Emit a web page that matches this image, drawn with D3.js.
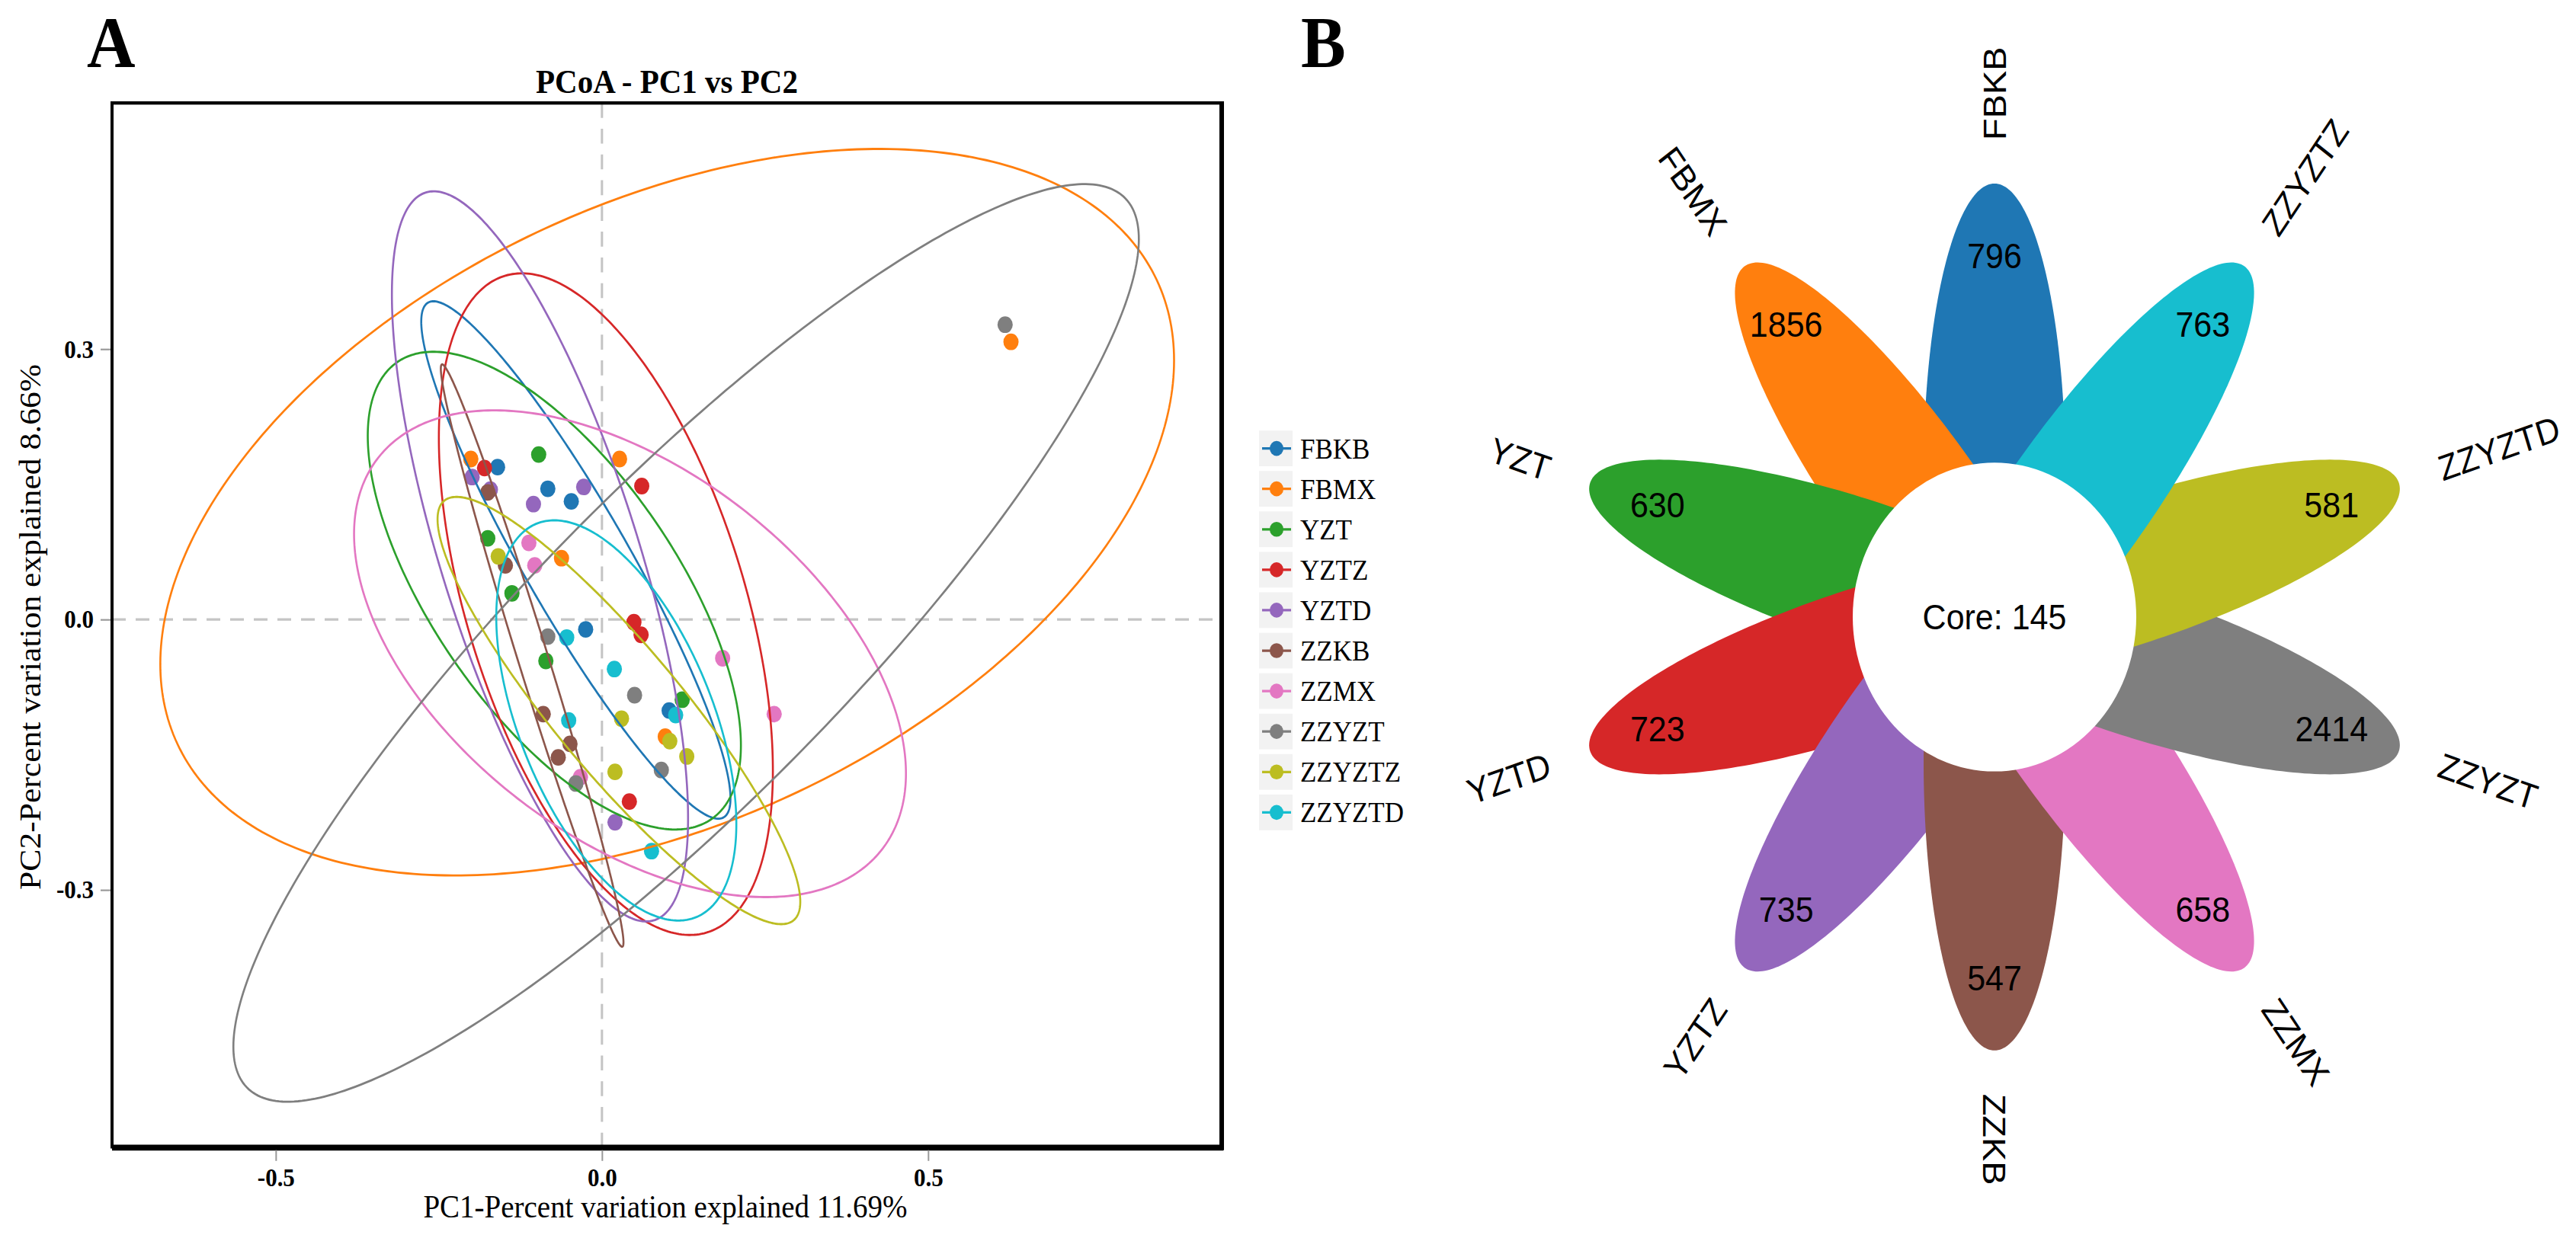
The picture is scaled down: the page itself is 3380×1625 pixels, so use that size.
<!DOCTYPE html>
<html>
<head>
<meta charset="utf-8">
<script src="https://cdn.jsdelivr.net/npm/d3@7"></script>
<style>
  body { margin: 0; background: #fff; }
  svg { display: block; }
  .serif { font-family: "Liberation Serif", "Times New Roman", serif; }
  .sans { font-family: "Liberation Sans", Arial, sans-serif; }
</style>
</head>
<body>
<div id="chart"></div>
<script>
(function(d3){

    // ---- Panel A data: PCoA scores ----
    let groups = ['FBKB', 'FBMX', 'YZT', 'YZTZ', 'YZTD', 'ZZKB', 'ZZMX', 'ZZYZT', 'ZZYZTZ', 'ZZYZTD'];

    let pc1 = [
        [-0.160, -0.083, -0.047, -0.025, 0.103],
        [-0.201, 0.027, -0.062, 0.097, 0.627],
        [-0.097, -0.175, -0.138, -0.086, 0.123],
        [-0.180, 0.061, 0.049, 0.060, 0.042],
        [-0.199, -0.171, -0.028, -0.105, 0.020],
        [-0.175, -0.148, -0.090, -0.049, -0.067],
        [-0.112, -0.103, 0.185, -0.033, 0.264],
        [-0.083, 0.050, 0.091, -0.040, 0.618],
        [-0.159, 0.030, 0.104, 0.130, 0.020],
        [-0.054, 0.019, 0.113, -0.051, 0.076]
    ];
    let pc2 = [
        [0.169, 0.145, 0.131, -0.011, -0.101],
        [0.178, 0.178, 0.068, -0.130, 0.308],
        [0.183, 0.090, 0.029, -0.046, -0.089],
        [0.168, 0.148, -0.003, -0.017, -0.202],
        [0.158, 0.144, 0.147, 0.128, -0.225],
        [0.141, 0.060, -0.105, -0.138, -0.153],
        [0.085, 0.060, -0.043, -0.175, -0.105],
        [-0.019, -0.084, -0.167, -0.182, 0.327],
        [0.070, -0.110, -0.135, -0.152, -0.169],
        [-0.020, -0.055, -0.106, -0.112, -0.257]
    ];

    // Confidence ellipses: centre, half width, half height, tilt (correlation)
    let ellCx   = [-0.040, 0.100, -0.073, 0.006, -0.095, -0.107, 0.043, 0.129, 0.026, 0.022];
    let ellCy   = [0.066, 0.119, 0.032, 0.017, 0.070, -0.040, -0.038, -0.026, -0.101, -0.112];
    let ellW    = [0.237, 0.777, 0.286, 0.256, 0.227, 0.140, 0.423, 0.694, 0.278, 0.184];
    let ellH    = [0.287, 0.403, 0.265, 0.367, 0.405, 0.323, 0.270, 0.509, 0.237, 0.222];
    let ellTilt = [-0.921, 0.418, -0.648, -0.503, -0.717, -0.985, -0.492, 0.880, -0.895, -0.517];

    let xTicks = [-0.5, 0.0, 0.5];
    let yTicks = [-0.3, 0.0, 0.3];

    // ---- Panel B data: flower plot ----
    let petalNames  = ['FBKB', 'FBMX', 'YZT', 'YZTD', 'YZTZ', 'ZZKB', 'ZZMX', 'ZZYZT', 'ZZYZTD', 'ZZYZTZ'];
    let petalCounts = [796, 1856, 630, 723, 735, 547, 658, 2414, 581, 763];
    let coreCount = 145;

    let palette = d3.schemeCategory10;

    // Canvas; the source figure is slightly stretched vertically
    let width = 3380, height = 1625, stretch = 1.09;

    let svg = d3.select('#chart').append('svg')
        .attr('width', width)
        .attr('height', height);

    let root = svg.append('g').attr('transform', `scale(1, ${stretch})`);

    // ================= Panel A =================
    let frame = { left: 147, right: 1603, top: 124, bottom: 1381 };

    let x = d3.scaleLinear().domain([-0.751, 0.950]).range([frame.left, frame.right]);
    let y = d3.scaleLinear().domain([-0.585, 0.573]).range([frame.bottom, frame.top]);

    root.append('text')
        .attr('class', 'serif')
        .attr('x', 114).attr('y', 81)
        .style('font-size', '88px').style('font-weight', 'bold')
        .text('A');

    root.append('text')
        .attr('class', 'serif')
        .attr('x', (frame.left + frame.right) / 2).attr('y', 112)
        .attr('text-anchor', 'middle')
        .style('font-size', '41px').style('font-weight', 'bold')
        .text('PCoA - PC1 vs PC2');

    // zero reference lines
    root.append('line')
        .attr('x1', x(0)).attr('x2', x(0))
        .attr('y1', frame.top).attr('y2', frame.bottom)
        .attr('stroke', '#c4c4c4').attr('stroke-width', 3)
        .attr('stroke-dasharray', '18,13');
    root.append('line')
        .attr('x1', frame.left).attr('x2', frame.right)
        .attr('y1', y(0)).attr('y2', y(0))
        .attr('stroke', '#c4c4c4').attr('stroke-width', 3)
        .attr('stroke-dasharray', '18,13');

    // points
    groups.forEach((g, gi) => {
        pc1[gi].forEach((v, j) => {
            root.append('circle')
                .attr('cx', x(v))
                .attr('cy', y(pc2[gi][j]))
                .attr('r', 10)
                .attr('fill', palette[gi]);
        });
    });

    // ellipses
    let ellLine = d3.line()
        .x(p => x(p[0]))
        .y(p => y(p[1]))
        .curve(d3.curveLinearClosed);

    groups.forEach((g, gi) => {
        let phi = Math.asin(ellTilt[gi]);
        let pts = d3.range(0, 2 * Math.PI, Math.PI / 180).map(t => [
            ellCx[gi] + ellW[gi] * Math.cos(t),
            ellCy[gi] + ellH[gi] * Math.sin(t + phi)
        ]);
        root.append('path')
            .attr('d', ellLine(pts))
            .attr('fill', 'none')
            .attr('stroke', palette[gi])
            .attr('stroke-width', 2.6);
    });

    // frame
    root.append('rect')
        .attr('x', frame.left).attr('y', frame.top)
        .attr('width', frame.right - frame.left)
        .attr('height', frame.bottom - frame.top)
        .attr('fill', 'none')
        .attr('stroke', '#000').attr('stroke-width', 4);
    root.append('line')
        .attr('x1', frame.left).attr('x2', frame.right + 2)
        .attr('y1', frame.bottom + 1).attr('y2', frame.bottom + 1)
        .attr('stroke', '#000').attr('stroke-width', 7);
    root.append('line')
        .attr('x1', frame.right).attr('x2', frame.right)
        .attr('y1', frame.top - 2).attr('y2', frame.bottom + 4)
        .attr('stroke', '#000').attr('stroke-width', 6);

    // axes
    let fmt = d => d.toFixed(1);

    let xAxis = root.append('g')
        .attr('transform', `translate(0, ${frame.bottom + 4})`)
        .call(d3.axisBottom(x).tickValues(xTicks).tickFormat(fmt).tickSize(13).tickPadding(8));
    let yAxis = root.append('g')
        .attr('transform', `translate(${frame.left - 2}, 0)`)
        .call(d3.axisLeft(y).tickValues(yTicks).tickFormat(fmt).tickSize(13).tickPadding(9));

    [xAxis, yAxis].forEach(ax => {
        ax.select('.domain').remove();
        ax.selectAll('.tick line').attr('stroke', '#999').attr('stroke-width', 2);
        ax.selectAll('.tick text')
            .attr('class', 'serif')
            .attr('fill', '#000')
            .style('font-size', '31px')
            .style('font-weight', 'bold');
    });

    root.append('text')
        .attr('class', 'serif')
        .attr('x', 873).attr('y', 1466)
        .attr('text-anchor', 'middle')
        .style('font-size', '39px')
        .text('PC1-Percent variation explained 11.69%');

    root.append('text')
        .attr('class', 'serif')
        .attr('transform', `translate(53, 755) rotate(-90)`)
        .attr('text-anchor', 'middle')
        .style('font-size', '40px')
        .text('PC2-Percent variation explained 8.66%');

    // legend
    let legend = root.append('g').attr('transform', 'translate(1652, 540)');
    groups.forEach((g, gi) => {
        let row = legend.append('g').attr('transform', `translate(0, ${gi * 48.7})`);
        row.append('rect')
            .attr('x', 0).attr('y', -21.5)
            .attr('width', 44).attr('height', 43)
            .attr('fill', '#f2f2f2');
        row.append('line')
            .attr('x1', 4).attr('x2', 42)
            .attr('stroke', palette[gi]).attr('stroke-width', 3);
        row.append('circle')
            .attr('cx', 23).attr('r', 9)
            .attr('fill', palette[gi]);
        row.append('text')
            .attr('class', 'serif')
            .attr('x', 54).attr('y', 12)
            .style('font-size', '35px')
            .text(g);
    });

    // ================= Panel B =================
    root.append('text')
        .attr('class', 'serif')
        .attr('x', 1707).attr('y', 81)
        .style('font-size', '88px').style('font-weight', 'bold')
        .text('B');

    let fc = { x: 2617, y: 743 };
    // one plot unit in x / y pixels (plot region was not square)
    let ux = d3.scaleLinear().domain([0, 1]).range([fc.x, fc.x + 186]);
    let uy = d3.scaleLinear().domain([0, 1]).range([fc.y, fc.y - 174]);

    let n = petalNames.length, step = 360 / n, start = 90;
    let rad = d => d * Math.PI / 180;

    let petalLine = d3.line()
        .x(p => ux(p[0]))
        .y(p => uy(p[1]))
        .curve(d3.curveLinearClosed);

    let flower = root.append('g');

    petalNames.forEach((name, i) => {
        let theta = rad(start + step * i), alpha = rad(step * i);
        let cxu = Math.cos(theta), cyu = Math.sin(theta);

        let pts = d3.range(0, 2 * Math.PI, Math.PI / 120).map(tau => {
            let px = 0.5 * Math.cos(tau), py = 2 * Math.sin(tau);
            return [px * Math.cos(alpha) - py * Math.sin(alpha) + cxu,
                    px * Math.sin(alpha) + py * Math.cos(alpha) + cyu];
        });

        flower.append('path')
            .attr('d', petalLine(pts))
            .attr('fill', palette[i]);

        flower.append('text')
            .attr('class', 'sans')
            .attr('x', ux(2.5 * cxu)).attr('y', uy(2.5 * cyu))
            .attr('text-anchor', 'middle')
            .attr('dominant-baseline', 'central')
            .style('font-size', '43px')
            .text(petalCounts[i]);

        // sample name, rotated like R's text(srt=...)
        let a = step * i;
        let inner = a > 0 && a < 180;
        let srt = inner ? a - start : a + start;
        flower.append('text')
            .attr('class', 'sans')
            .attr('transform', `translate(${ux(3.3 * cxu)}, ${uy(3.3 * cyu)}) rotate(${-srt})`)
            .attr('text-anchor', inner ? 'end' : 'start')
            .attr('dominant-baseline', 'central')
            .style('font-size', '43px')
            .text(name);
    });

    flower.append('circle')
        .attr('cx', fc.x).attr('cy', fc.y)
        .attr('r', ux(1) - fc.x)
        .attr('fill', '#fff');

    flower.append('text')
        .attr('class', 'sans')
        .attr('x', fc.x).attr('y', fc.y)
        .attr('text-anchor', 'middle')
        .attr('dominant-baseline', 'central')
        .style('font-size', '43px')
        .text(`Core: ${coreCount}`);

})(window.d3);
</script>
</body>
</html>
